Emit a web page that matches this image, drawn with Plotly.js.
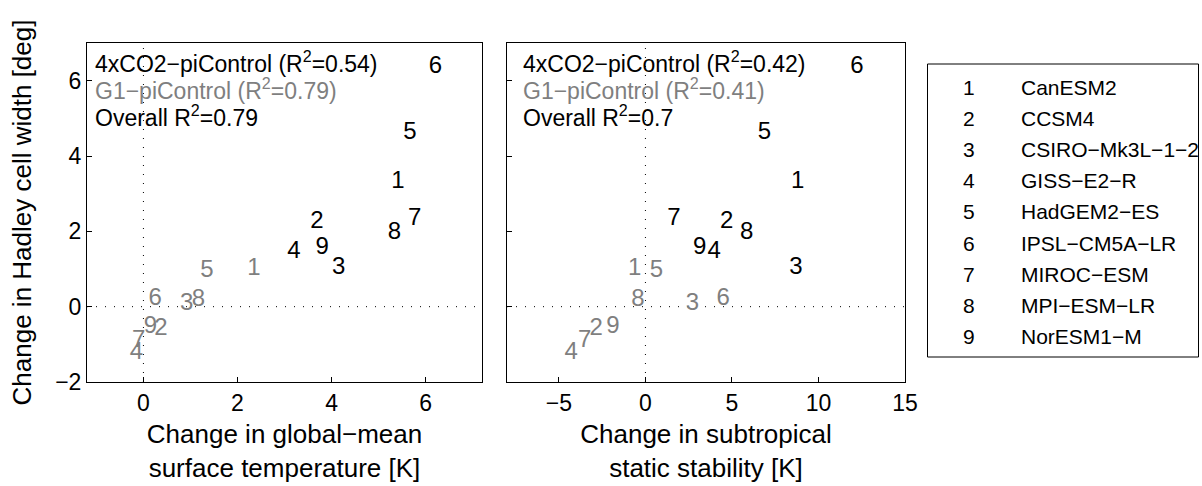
<!DOCTYPE html>
<html>
<head>
<meta charset="utf-8">
<script src="https://cdn.plot.ly/plotly-3.0.1.min.js"></script>
<style>html,body{margin:0;padding:0;background:#fff;}#chart{width:1202px;height:486px;}</style>
</head>
<body>
<div id="chart"></div>
<script>
// ---- data ----
const modelIds = ["1", "2", "3", "4", "5", "6", "7", "8", "9"];
const modelNames = ["CanESM2", "CCSM4", "CSIRO\u2212Mk3L\u22121\u22122", "GISS\u2212E2\u2212R", "HadGEM2\u2212ES",
  "IPSL\u2212CM5A\u2212LR", "MIROC\u2212ESM", "MPI\u2212ESM\u2212LR", "NorESM1\u2212M"];

// 4xCO2 - piControl
const dTemp4x    = [5.41, 3.69, 4.15, 3.20, 5.67, 6.21, 5.77, 5.34, 3.80];
const dStab4x    = [8.80, 4.69, 8.70, 3.97, 6.87, 12.22, 1.64, 5.85, 3.14];
const dHadley4x  = [3.31, 2.24, 1.02, 1.46, 4.62, 6.37, 2.33, 1.96, 1.55];
// G1 - piControl
const dTempG1    = [2.35, 0.37, 0.92, -0.15, 1.35, 0.25, -0.10, 1.17, 0.15];
const dStabG1    = [-0.62, -2.84, 2.72, -4.29, 0.64, 4.50, -3.51, -0.43, -1.88];
const dHadleyG1  = [1.01, -0.60, 0.06, -1.24, 0.95, 0.21, -0.92, 0.18, -0.55];

const statsLeft  = {r4x: "0.54", rG1: "0.79", overall: "0.79"};
const statsRight = {r4x: "0.42", rG1: "0.41", overall: "0.7"};

const xTicksLeft  = [0, 2, 4, 6];
const xTicksRight = [-5, 0, 5, 10, 15];
const yTicks      = [-2, 0, 2, 4, 6];

// ---- styling ----
const FONT = "Liberation Sans, Arial, Helvetica, sans-serif";
const BLACK = "#000000";
const GRAY = "#7f7f7f";
const NUM_SIZE = 24;

function textTrace(x, y, color, xa, ya) {
  return {
    type: "scatter", mode: "text", x: x, y: y, text: modelIds,
    textposition: "middle center",
    textfont: {family: FONT, size: NUM_SIZE, color: color},
    xaxis: xa, yaxis: ya, showlegend: false, hoverinfo: "skip", cliponaxis: false
  };
}

const data = [
  textTrace(dTempG1, dHadleyG1, GRAY, "x", "y"),
  textTrace(dTemp4x, dHadley4x, BLACK, "x", "y"),
  textTrace(dStabG1, dHadleyG1, GRAY, "x2", "y2"),
  textTrace(dStab4x, dHadley4x, BLACK, "x2", "y2")
];

const W = 1202, H = 486;
const px = v => v / W;
const py = v => 1 - v / H;

const axisCommon = {
  showline: true, mirror: true, linecolor: BLACK, linewidth: 1,
  ticks: "inside", ticklen: 5, tickwidth: 1, tickcolor: BLACK,
  showgrid: false, zeroline: false, automargin: false,
  tickfont: {family: FONT, size: 23, color: BLACK}
};

const annotations = [];
function statText(xp, s) {
  const lines = [
    {t: "4xCO2\u2212piControl (R<sup>2</sup>=" + s.r4x + ")", c: BLACK, y: 62},
    {t: "G1\u2212piControl (R<sup>2</sup>=" + s.rG1 + ")", c: GRAY, y: 89},
    {t: "Overall R<sup>2</sup>=" + s.overall, c: BLACK, y: 116}
  ];
  lines.forEach(l => annotations.push({
    xref: "paper", yref: "paper", x: px(xp), y: py(l.y), xanchor: "left", yanchor: "middle",
    text: l.t, showarrow: false, font: {family: FONT, size: 23, color: l.c}
  }));
}
statText(93, statsLeft);
statText(521, statsRight);

// legend box entries
const legTop = 87, legStep = 31.2;
modelIds.forEach((id, i) => {
  annotations.push({xref: "paper", yref: "paper", x: px(969), y: py(legTop + i * legStep),
    xanchor: "center", yanchor: "middle", text: id, showarrow: false,
    font: {family: FONT, size: 21, color: BLACK}});
  annotations.push({xref: "paper", yref: "paper", x: px(1019), y: py(legTop + i * legStep),
    xanchor: "left", yanchor: "middle", text: modelNames[i], showarrow: false,
    font: {family: FONT, size: 21, color: BLACK}});
});

const dotted = {color: BLACK, width: 1, dash: "1px,8px"};
const shapes = [
  {type: "line", xref: "x", yref: "y domain", x0: 0, x1: 0, y0: 0, y1: 1, line: dotted, layer: "below"},
  {type: "line", xref: "x domain", yref: "y", x0: 0, x1: 1, y0: 0, y1: 0, line: dotted, layer: "below"},
  {type: "line", xref: "x2", yref: "y2 domain", x0: 0, x1: 0, y0: 0, y1: 1, line: dotted, layer: "below"},
  {type: "line", xref: "x2 domain", yref: "y2", x0: 0, x1: 1, y0: 0, y1: 0, line: dotted, layer: "below"},
  {type: "rect", xref: "paper", yref: "paper", x0: px(927.5), x1: px(1198.5), y0: py(357), y1: py(64),
    line: {color: BLACK, width: 1}, fillcolor: "rgba(0,0,0,0)"}
];

const layout = {
  width: W, height: H,
  margin: {l: 0, r: 0, t: 0, b: 0},
  paper_bgcolor: "#ffffff", plot_bgcolor: "#ffffff",
  showlegend: false,
  font: {family: FONT, color: BLACK},
  xaxis: Object.assign({}, axisCommon, {
    domain: [px(87), px(482)], range: [-1.2, 7.2], tickvals: xTicksLeft, anchor: "y",
    title: {text: "Change in global\u2212mean<br>surface temperature [K]", font: {family: FONT, size: 26, color: BLACK}, standoff: 10}
  }),
  yaxis: Object.assign({}, axisCommon, {
    domain: [1 - 382 / H, 1 - 43 / H], range: [-2, 7], tickvals: yTicks, anchor: "x",
    title: {text: "Change in Hadley cell width [deg]", font: {family: FONT, size: 26, color: BLACK}, standoff: 16}
  }),
  xaxis2: Object.assign({}, axisCommon, {
    domain: [px(507), px(905)], range: [-8, 15], tickvals: xTicksRight, anchor: "y2",
    title: {text: "Change in subtropical<br>static stability [K]", font: {family: FONT, size: 26, color: BLACK}, standoff: 10}
  }),
  yaxis2: Object.assign({}, axisCommon, {
    domain: [1 - 382 / H, 1 - 43 / H], range: [-2, 7], tickvals: yTicks, anchor: "x2",
    showticklabels: false
  }),
  annotations: annotations,
  shapes: shapes
};

Plotly.newPlot("chart", data, layout, {displayModeBar: false, staticPlot: true});
</script>
</body>
</html>
